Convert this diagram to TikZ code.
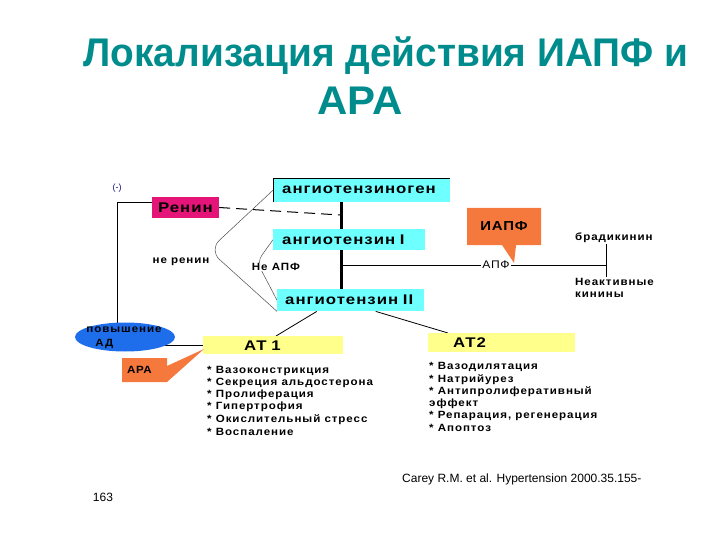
\documentclass[tikz,border=0pt]{standalone}
\usepackage{fontspec}
\setmainfont{Liberation Sans}
\usetikzlibrary{shapes.geometric,shapes.callouts,calc,backgrounds}
\definecolor{titlec}{RGB}{0,140,140}
\definecolor{cyanbox}{RGB}{110,255,255}
\definecolor{reninc}{RGB}{228,20,120}
\definecolor{orangec}{RGB}{245,120,60}
\definecolor{yellowc}{RGB}{255,255,140}
\definecolor{bluec}{RGB}{30,110,235}
\definecolor{minusc}{RGB}{20,20,120}
\newcommand\boxfont{\fontsize{14}{16}\selectfont\bfseries\addfontfeature{FakeStretch=1.2,LetterSpace=7}}
\newcommand\listfont{\fontsize{10.5}{12}\selectfont\bfseries\addfontfeature{FakeStretch=1.1,LetterSpace=9}}
\begin{document}
\begin{tikzpicture}[x=1pt,y=-1pt,
  cbox/.style={rectangle, fill=cyanbox, anchor=north west, inner ysep=0pt, align=left, font=\boxfont},
  ybox/.style={rectangle, fill=yellowc, anchor=north west, inner ysep=0pt, align=left, font=\boxfont},
  lbl/.style={inner sep=1pt, font=\listfont},
  lst/.style={anchor=west, inner sep=0pt, font=\listfont},
  thinln/.style={draw=black!70, line width=0.5pt},
  conn/.style={draw=black, line width=0.8pt}]
\useasboundingbox (0,0) rectangle (720,540);

% title
\node[text=titlec, font=\fontsize{40}{44}\selectfont\bfseries] (t1) at (386,56) {\scalebox{0.97}[1]{Локализация действия ИАПФ и}};
\node[text=titlec, font=\fontsize{40}{44}\selectfont\bfseries] (t2) at (360,101) {\scalebox{1.05}[1]{АРА}};

% cascade boxes
\node[cbox, minimum width=177, minimum height=24, text width=159, inner xsep=9pt] (agen) at (273,178) {\mbox{ангиотензиноген}};
\node[cbox, minimum width=152, minimum height=21, text width=134, inner xsep=9pt] (a1) at (273,229) {\mbox{ангиотензин I}};
\node[cbox, minimum width=147, minimum height=22, text width=131, inner xsep=8pt] (a2) at (277,289) {\mbox{ангиотензин II}};
\draw[black, line width=0.8pt] (agen.south west) -- (agen.north west) -- (agen.north east);

\node[rectangle, fill=reninc, minimum width=67, minimum height=21, inner sep=0pt, font=\boxfont] (renin) at (185.5,207.5) {Ренин};
\node[text=minusc, font=\fontsize{9}{10}\selectfont] (minus) at (117,188) {(-)};

\node[lbl] (nerenin) at (181,262) {не ренин};
\node[lbl, fill=white, inner sep=0pt] (neapf) at (276,267) {Не АПФ};
\node[font=\fontsize{11}{12}\selectfont\addfontfeature{FakeStretch=1.1,LetterSpace=6}, inner sep=1pt] (apf) at (496,265) {АПФ};
\node[lbl, anchor=west] (brad) at (574,238) {брадикинин};
\node[lbl, anchor=north west, align=left] (inact) at (574,277) {Неактивные\\кинины};

\coordinate (spine) at (341,0);
\coordinate (rj) at (340,215);
\coordinate (c1) at (209,250);
\coordinate (c2) at (257,262);
\coordinate (jn) at (606,265);

% receptors
\node[ybox, minimum width=140, minimum height=18, text width=90, inner xsep=25pt] (at1) at (203,336) {\hspace*{16pt}АТ 1};
\node[ybox, minimum width=147, minimum height=19, text width=97, inner xsep=25pt] (at2) at (428,333) {АТ2};

\node[ellipse, fill=bluec, minimum width=100, minimum height=29, inner sep=0pt] (bp) at (125,337) {};
\node[align=left, inner sep=0pt, font=\fontsize{10.5}{13.5}\selectfont\bfseries\addfontfeature{FakeStretch=1.1,LetterSpace=9}] (bptext) at (124,337.5) {повышение\\\hspace*{9pt}АД};

\coordinate (arap) at (204,349);
\coordinate (iapfp) at (514,263);
\node[rectangle callout, fill=orangec, minimum width=45, minimum height=24, inner sep=0pt,
  callout absolute pointer=(arap), callout pointer width=16pt,
  font=\fontsize{10.5}{12}\selectfont\bfseries\addfontfeature{FakeStretch=1.1,LetterSpace=6}] (ara) at (144.5,370) {\hspace*{-10pt}АРА};
\node[rectangle callout, fill=orangec, minimum width=74, minimum height=37, inner sep=0pt,
  callout absolute pointer=(iapfp), callout pointer width=14pt,
  font=\fontsize{13}{15}\selectfont\bfseries\addfontfeature{FakeStretch=1.15,LetterSpace=6}] (iapf) at (504,226.5) {ИАПФ};

% lists
\node[lst] (l11) at (207,371) {* Вазоконстрикция};
\node[lst] (l12) at (207,383) {* Секреция альдостерона};
\node[lst] (l13) at (207,395) {* Пролиферация};
\node[lst] (l14) at (207,407) {* Гипертрофия};
\node[lst] (l15) at (207,420) {* Окислительный стресс};
\node[lst] (l16) at (207,432) {* Воспаление};

\node[lst] (l21) at (429,367) {* Вазодилятация};
\node[lst] (l22) at (429,380) {* Натрийурез};
\node[lst] (l23) at (429,392) {* Антипролиферативный};
\node[lst] (l24) at (429,404) {эффект};
\node[lst] (l25) at (429,416) {* Репарация, регенерация};
\node[lst] (l26) at (429,428) {* Апоптоз};

\node[font=\fontsize{12}{14}\selectfont, anchor=west, inner sep=0pt] (cite) at (402,479) {Carey R.M. et al. Hypertension 2000.35.155-};
\node[font=\fontsize{12}{14}\selectfont, inner sep=0pt] (page) at (103,497) {163};

\begin{pgfonlayer}{background}
  \draw[black, line width=3pt] (agen.south -| spine) -- (a1.north -| spine);
  \draw[black, line width=3pt] (a1.south -| spine) -- (a2.north -| spine);
  \draw[black, line width=1pt, dash pattern=on 11pt off 6pt] (renin.east) -- (rj);
  \draw[thinln, rounded corners=14pt] (agen.west) -- (c1) -- (a2.south west);
  \draw[thinln, rounded corners=8pt] (a1.west) -- (c2) -- (a2.west);
  \draw[conn] (apf.west -| spine) -- (apf.west);
  \draw[conn] (apf.east) -- (jn);
  \draw[conn] (brad.south -| jn) -- (inact.north -| jn);
  \draw[conn] ($(a2.south west)!0.27!(a2.south east)$) -- ($(at1.north west)!0.52!(at1.north east)$);
  \draw[conn] ($(a2.south west)!0.67!(a2.south east)$) -- ($(at2.north west)+(20,0)$);
  \draw[conn] (renin.west |- 0,202) -- (117,202) -- (117,323);
  \draw[conn] (at1.west -| bp.center) -- (at1.west);
\end{pgfonlayer}
\end{tikzpicture}
\end{document}
